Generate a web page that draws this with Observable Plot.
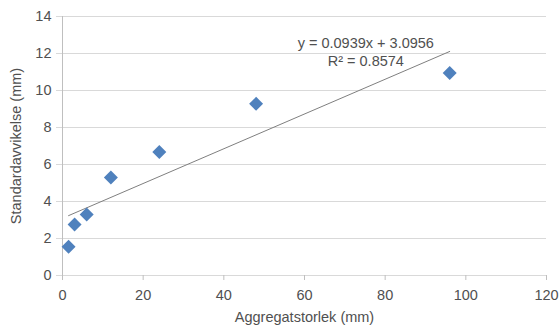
<!DOCTYPE html>
<html>
<head>
<meta charset="utf-8">
<script src="https://cdn.jsdelivr.net/npm/d3@7"></script>
<script src="https://cdn.jsdelivr.net/npm/@observablehq/plot@0.6"></script>
<style>
  html, body { margin: 0; padding: 0; background: #fff; }
  #chart svg { display: block; }
</style>
</head>
<body>
<div id="chart"></div>
<script>
// Data
const aggregateSize = [1.5, 3, 6, 12, 24, 48, 96];          // Aggregatstorlek (mm)
const stdDeviation  = [1.55, 2.76, 3.3, 5.3, 6.68, 9.28, 10.94]; // Standardavvikelse (mm)
const trendSlope = 0.0939;
const trendIntercept = 3.0956;
const trendRange = [1.5, 96];
const xTicks = [0, 20, 40, 60, 80, 100, 120];
const yTicks = [0, 2, 4, 6, 8, 10, 12, 14];
const equationText = "y = 0.0939x + 3.0956\nR² = 0.8574";
const xTitle = "Aggregatstorlek (mm)";
const yTitle = "Standardavvikelse (mm)";

const points = aggregateSize.map((x, i) => ({x, y: stdDeviation[i]}));
const trend = trendRange.map(x => ({x, y: trendSlope * x + trendIntercept}));

const font = "'Liberation Sans', Arial, sans-serif";
const textColor = "#505050";
const fs = 14.5;

const chart = Plot.plot({
  width: 560,
  height: 336,
  marginLeft: 62,
  marginRight: 14,
  marginTop: 16,
  marginBottom: 61,
  style: {fontFamily: font, fontSize: fs + "px", color: textColor, background: "#fff"},
  x: {domain: [0, 120]},
  y: {domain: [0, 14]},
  marks: [
    Plot.gridY(yTicks, {stroke: "#d9d9d9", strokeOpacity: 1, strokeWidth: 1}),
    Plot.ruleX([0], {stroke: "#bfbfbf", strokeWidth: 1}),
    Plot.axisY(yTicks, {tickSize: 6, tickPadding: 5, stroke: "#d9d9d9", fill: textColor, label: null, fontSize: fs}),
    Plot.axisX(xTicks, {tickSize: 5, tickPadding: 9, stroke: "#bfbfbf", fill: textColor, label: null, fontSize: fs}),
    Plot.line(trend, {x: "x", y: "y", stroke: "#7f7f7f", strokeWidth: 1}),
    Plot.dot(points, {x: "x", y: "y", symbol: "diamond2", r: 6.3, fill: "#4F81BD", stroke: "none"}),
    Plot.text([equationText], {x: 75.2, y: 12.12, text: d => d, textAnchor: "middle", lineHeight: 1.22, fontSize: fs, fill: textColor}),
    Plot.text([xTitle], {frameAnchor: "bottom", dy: 46, text: d => d, textAnchor: "middle", fontSize: fs, fill: textColor}),
    Plot.text([yTitle], {frameAnchor: "left", dx: -46, rotate: -90, text: d => d, textAnchor: "middle", fontSize: fs, fill: textColor})
  ]
});
document.getElementById("chart").appendChild(chart);
</script>
</body>
</html>
